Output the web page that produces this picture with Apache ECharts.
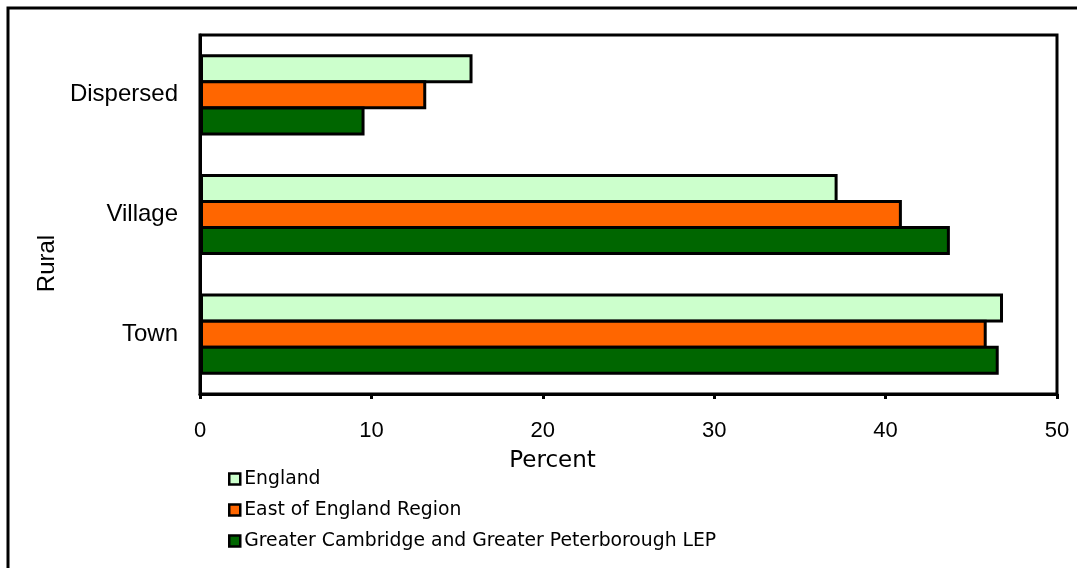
<!DOCTYPE html>
<html>
<head>
<meta charset="utf-8">
<script src="https://cdn.jsdelivr.net/npm/echarts@6/dist/echarts.min.js"></script>
<style>
  html, body { margin: 0; padding: 0; background: #fff; }
  #chart { width: 1077px; height: 568px; }
</style>
</head>
<body>
<div id="chart"></div>
<script>
// categories bottom-up on the y axis
const categories = ['Town', 'Village', 'Dispersed'];
const seriesNames = ['England', 'East of England Region', 'Greater Cambridge and Greater Peterborough LEP'];
const englandValues = [46.85, 37.2, 15.9];
const eastValues = [45.9, 40.95, 13.2];
const lepValues = [46.6, 43.75, 9.6];
const xTicks = [0, 10, 20, 30, 40, 50];

const colors = { England: '#CCFFCC', 'East of England Region': '#FF6600', 'Greater Cambridge and Greater Peterborough LEP': '#006600' };

const chart = echarts.init(document.getElementById('chart'));

function barSeries(name, data) {
  return {
    name, type: 'bar', data,
    barWidth: 29, barGap: '-10%',
    itemStyle: { color: colors[name], borderColor: '#000', borderWidth: 3 },
    emphasis: { disabled: true }
  };
}

chart.setOption({
  animation: false,
  backgroundColor: '#fff',
  textStyle: { fontFamily: 'Liberation Sans' },
  graphic: [{
    type: 'rect', silent: true,
    shape: { x: 8, y: 8, width: 1200, height: 700 },
    style: { fill: 'none', stroke: '#000', lineWidth: 3 }
  }],
  grid: { left: 200, top: 35, right: 20, bottom: 174, show: true, borderColor: '#000', borderWidth: 3 },
  legend: {
    orient: 'vertical', left: 223, top: 463,
    data: seriesNames,
    itemWidth: 11, itemHeight: 11, itemGap: 9,
    icon: 'rect',
    itemStyle: { borderColor: '#000', borderWidth: 2.5 },
    textStyle: { fontFamily: 'DejaVu Sans', fontSize: 18.8, color: '#000', lineHeight: 22, padding: [0, 0, 0, -1] }
  },
  xAxis: {
    type: 'value', min: xTicks[0], max: xTicks[xTicks.length - 1], interval: 10,
    name: 'Percent', nameLocation: 'middle', nameGap: 56,
    nameTextStyle: { fontFamily: 'DejaVu Sans', fontSize: 23, color: '#000', padding: [0, 152, 0, 0] },
    axisLine: { show: true, lineStyle: { color: '#000', width: 3 } },
    axisTick: { show: true, length: 5, lineStyle: { color: '#000', width: 3 } },
    axisLabel: { color: '#000', fontSize: 22, margin: 26 },
    splitLine: { show: false }
  },
  yAxis: {
    type: 'category', data: categories,
    name: 'Rural', nameLocation: 'middle', nameGap: 133, nameRotate: 90,
    nameTextStyle: { fontSize: 24, color: '#000', padding: [0, 0, 0, -98] },
    axisLine: { show: true, lineStyle: { color: '#000', width: 3 } },
    axisTick: { show: false },
    axisLabel: { color: '#000', fontSize: 24, margin: 22 }
  },
  series: [
    barSeries(seriesNames[0], englandValues),
    barSeries(seriesNames[1], eastValues),
    barSeries(seriesNames[2], lepValues)
  ]
});
</script>
</body>
</html>
